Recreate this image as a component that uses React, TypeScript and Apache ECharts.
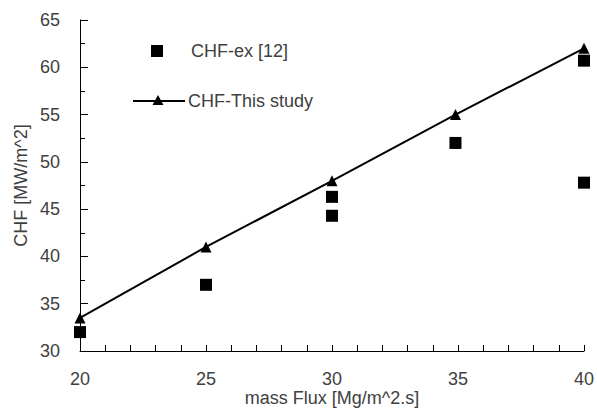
import React, { useEffect, useRef } from "react";
import * as echarts from "echarts";

// Mass flux [Mg/m^2.s]
const exFlux = [20, 25, 30, 30, 34.9, 40, 40];
// Experimental CHF [MW/m^2]
const exChf = [32, 37, 46.3, 44.3, 52, 60.7, 47.8];

const studyFlux = [20, 25, 30, 34.9, 40];
const studyChf = [33.5, 41, 48, 55, 62];

const FONT = "Liberation Sans, Arial, sans-serif";
const TEXT = "#404040";

export default function App() {
  const ref = useRef<HTMLDivElement>(null);

  useEffect(() => {
    if (!ref.current) return;
    const chart = echarts.init(ref.current, null, { renderer: "svg" });
    chart.setOption({
      animation: false,
      backgroundColor: "#fff",
      grid: { left: 80, right: 13, top: 20, bottom: 59, outerBoundsMode: "none", containLabel: false },
      xAxis: {
        type: "value",
        min: 20,
        max: 40,
        interval: 5,
        name: "mass Flux [Mg/m^2.s]",
        nameLocation: "middle",
        nameGap: 38,
        nameMoveOverlap: false,
        nameTextStyle: { color: TEXT, fontSize: 18, fontFamily: FONT, lineHeight: 18 },
        axisLine: { lineStyle: { color: "#000", width: 1 } },
        axisTick: { inside: true, length: 6, lineStyle: { color: "#000" } },
        minorTick: { show: true, splitNumber: 5, length: 6, lineStyle: { color: "#000" } },
        axisLabel: { color: TEXT, fontSize: 18, fontFamily: FONT, margin: 19 },
        splitLine: { show: false },
      },
      yAxis: {
        type: "value",
        min: 30,
        max: 65,
        interval: 5,
        name: "CHF [MW/m^2]",
        nameLocation: "middle",
        nameGap: 50,
        nameMoveOverlap: false,
        nameTextStyle: { color: TEXT, fontSize: 18, fontFamily: FONT },
        axisLine: { show: true, lineStyle: { color: "#000", width: 1 } },
        axisTick: { show: true, inside: true, length: 8, lineStyle: { color: "#000" } },
        minorTick: { show: true, splitNumber: 2, length: 5, lineStyle: { color: "#000" } },
        axisLabel: { color: TEXT, fontSize: 18, fontFamily: FONT, margin: 20 },
        splitLine: { show: false },
      },
      series: [
        {
          name: "CHF-This study",
          type: "line",
          data: studyFlux.map((x, i) => [x, studyChf[i]]),
          symbol: "triangle",
          symbolSize: 11,
          showAllSymbol: true,
          lineStyle: { color: "#000", width: 2 },
          itemStyle: { color: "#000" },
          z: 2,
        },
        {
          name: "CHF-ex [12]",
          type: "scatter",
          data: exFlux.map((x, i) => [x, exChf[i]]),
          symbol: "rect",
          symbolSize: 12,
          itemStyle: { color: "#000", opacity: 1 },
          z: 3,
        },
      ],
      graphic: [
        { type: "rect", shape: { x: 151, y: 45, width: 12, height: 12 }, style: { fill: "#000" } },
        {
          type: "text",
          x: 191,
          y: 51,
          style: { text: "CHF-ex [12]", fill: TEXT, font: `18px ${FONT}`, verticalAlign: "middle" },
        },
        { type: "line", shape: { x1: 133, y1: 101, x2: 185, y2: 101 }, style: { stroke: "#000", lineWidth: 2 } },
        {
          type: "polygon",
          shape: { points: [[158, 95], [152.5, 105], [163.5, 105]] },
          style: { fill: "#000" },
        },
        {
          type: "text",
          x: 188,
          y: 101,
          style: { text: "CHF-This study", fill: TEXT, font: `18px ${FONT}`, verticalAlign: "middle" },
        },
      ],
    });
    return () => chart.dispose();
  }, []);

  return <div ref={ref} style={{ width: 597, height: 410, position: "absolute", left: 0, top: 0 }} />;
}
